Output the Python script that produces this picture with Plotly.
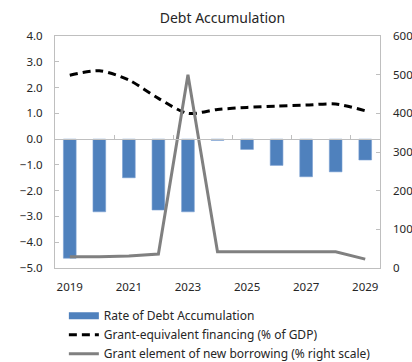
import plotly.graph_objects as go

# Data
years = [2019, 2020, 2021, 2022, 2023, 2024, 2025, 2026, 2027, 2028, 2029]
debt_accumulation = [-4.62, -2.82, -1.5, -2.75, -2.82, -0.05, -0.4, -1.02, -1.46, -1.27, -0.81]
grant_equiv_financing = [2.48, 2.65, 2.29, 1.58, 1.0, 1.15, 1.23, 1.28, 1.32, 1.36, 1.1]
grant_element = [29, 29, 31, 36, 500, 42, 42, 42, 42, 42, 23]
x_tick_labels = [2019, 2021, 2023, 2025, 2027, 2029]

BLUE = "rgb(79,129,189)"
GRAY = "rgb(128,128,128)"
FRAME = "rgb(191,191,191)"
TEXT = "#262626"
FONT = "Noto Sans"

fig = go.Figure()

fig.add_trace(go.Bar(
    x=years, y=debt_accumulation, name="Rate of Debt Accumulation",
    marker=dict(color=BLUE, line=dict(color="rgb(120,160,210)", width=0.6)),
    width=0.43, showlegend=False, yaxis="y",
))
# legend entry for the bars, drawn as a wide block
fig.add_trace(go.Scatter(
    x=[None], y=[None], mode="lines", name="Rate of Debt Accumulation",
    line=dict(color=BLUE, width=7), yaxis="y",
))
fig.add_trace(go.Scatter(
    x=years, y=grant_equiv_financing, mode="lines",
    name="Grant-equivalent financing (% of GDP)",
    line=dict(color="black", width=3, dash="8px,5px", shape="spline", smoothing=0.8),
    yaxis="y",
))
fig.add_trace(go.Scatter(
    x=years, y=grant_element, mode="lines",
    name="Grant element of new borrowing (% right scale)",
    line=dict(color=GRAY, width=3), yaxis="y2",
))
# helper trace so the zero-line axis is drawn
fig.add_trace(go.Scatter(x=[None], y=[None], xaxis="x2", yaxis="y",
                         showlegend=False, hoverinfo="skip"))

rng = [years[0] - 0.5, years[-1] + 0.5]
boundaries = [y + 0.5 for y in years[1:-1:2]]

fig.update_layout(
    width=412, height=362,
    margin=dict(l=55, r=32, t=36, b=94, autoexpand=False),
    paper_bgcolor="white", plot_bgcolor="white",
    font=dict(family=FONT, size=11.5, color=TEXT),
    title=dict(text="Debt Accumulation", x=0.54, xanchor="center", y=0.95,
               yanchor="middle", font=dict(size=14, color=TEXT, family=FONT)),
    showlegend=True,
    legend=dict(x=0.155, xref="container", xanchor="left",
                y=0.168, yref="container", yanchor="top",
                font=dict(size=12, color=TEXT), tracegroupgap=0,
                itemwidth=30, bgcolor="rgba(0,0,0,0)"),
    xaxis=dict(range=rng, tickvals=x_tick_labels, ticktext=[str(v) for v in x_tick_labels],
               showgrid=False, zeroline=False, showline=True, linecolor=FRAME,
               linewidth=1, mirror=True, ticks="", ticklabelstandoff=8,
               automargin=False),
    xaxis2=dict(range=rng, overlaying="x", anchor="free", position=5 / 9,
                tickvals=boundaries, ticks="inside", ticklen=4, tickcolor=FRAME,
                showticklabels=False, showgrid=False, zeroline=False,
                showline=True, linecolor=FRAME, linewidth=1, automargin=False),
    yaxis=dict(range=[-5, 4], dtick=1, tickformat=".1f", showgrid=False,
               zeroline=False, showline=True, linecolor=FRAME, linewidth=1,
               mirror=True, ticks="inside", ticklen=4, tickcolor=FRAME,
               ticklabelstandoff=9, automargin=False),
    yaxis2=dict(range=[0, 600], dtick=100, overlaying="y", side="right",
                showgrid=False, zeroline=False, showline=False,
                ticks="inside", ticklen=4, tickcolor=FRAME, ticklabelstandoff=12,
                automargin=False),
    bargap=0.57,
)

fig.write_html("out.html")
